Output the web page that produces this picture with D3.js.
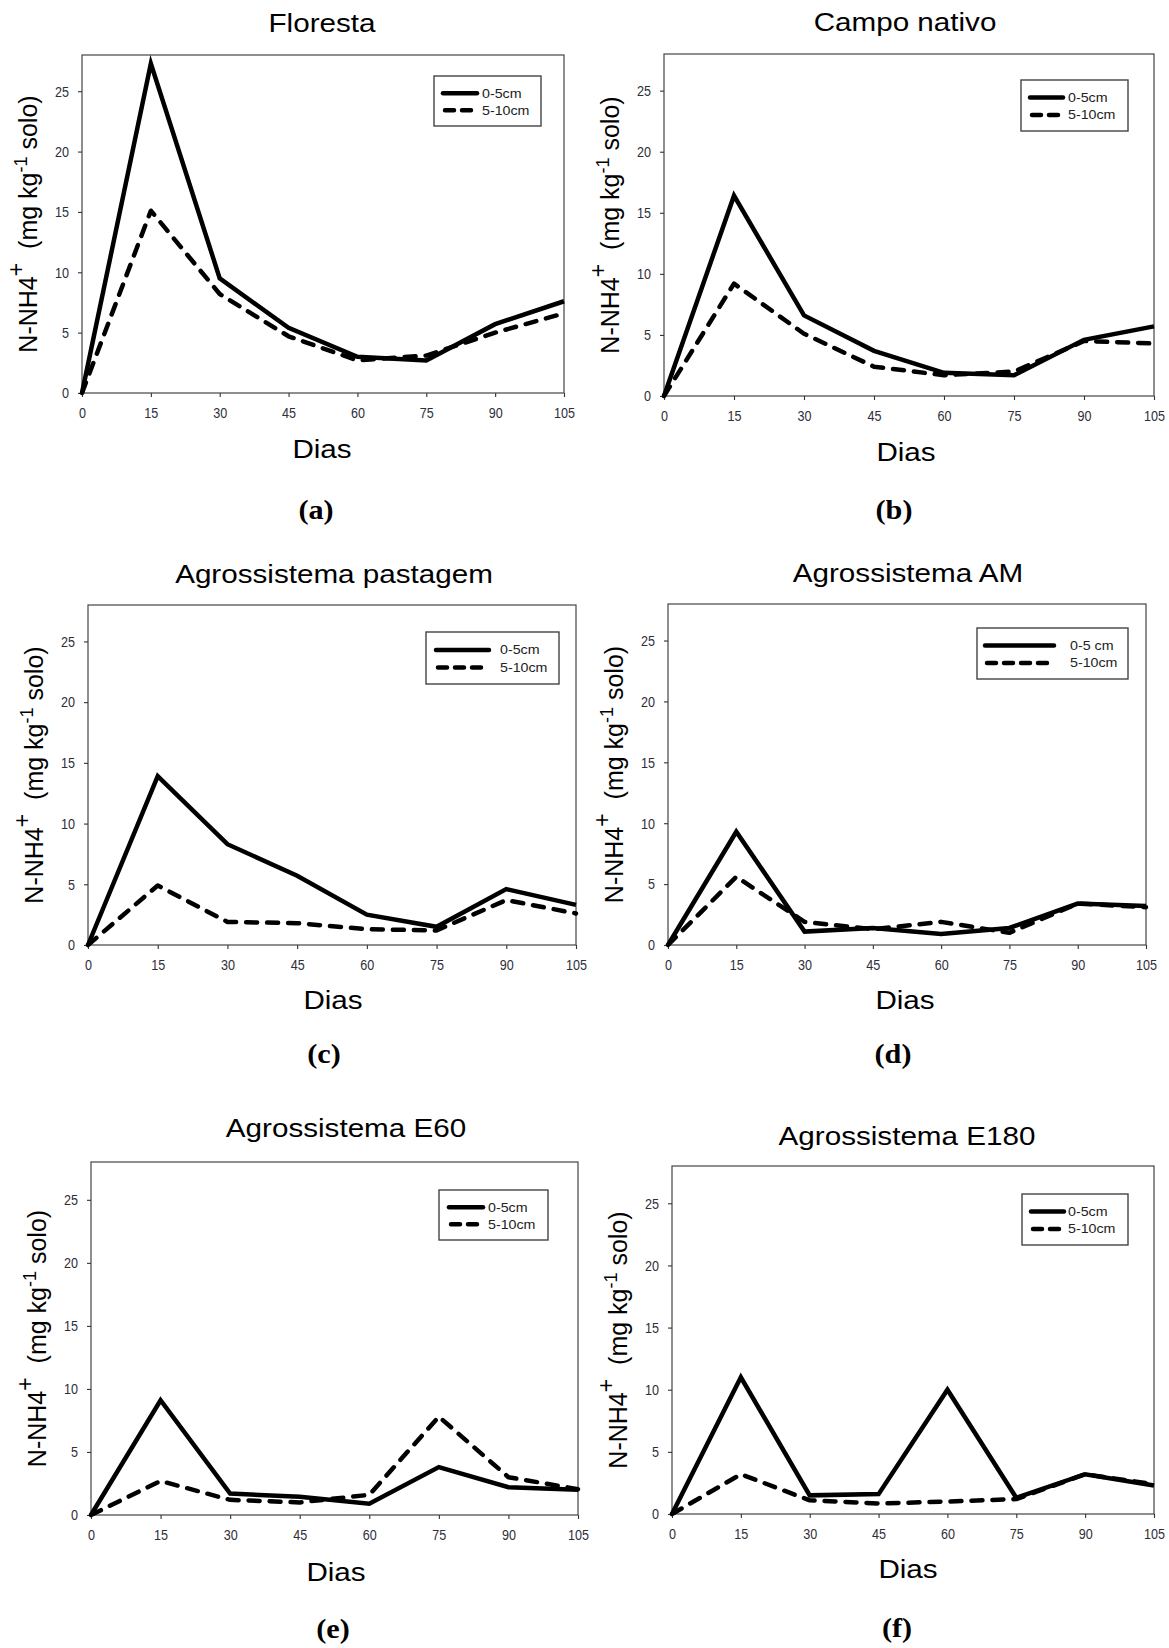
<!DOCTYPE html>
<html>
<head>
<meta charset="utf-8">
<script src="https://cdn.jsdelivr.net/npm/d3@7"></script>
<style>
  html, body { margin: 0; padding: 0; background: #fff; }
  svg { display: block; }
</style>
</head>
<body>
<script>
// ---------------- DATA ----------------
const days = [0, 15, 30, 45, 60, 75, 90, 105];
const xTicks = [0, 15, 30, 45, 60, 75, 90, 105];
const yTicks = [0, 5, 10, 15, 20, 25];

const titles = ["Floresta", "Campo nativo", "Agrossistema pastagem", "Agrossistema AM", "Agrossistema E60", "Agrossistema E180"];
const panelLetters = ["(a)", "(b)", "(c)", "(d)", "(e)", "(f)"];
const legend05 = ["0-5cm", "0-5cm", "0-5cm", "0-5 cm", "0-5cm", "0-5cm"];
const legend510 = ["5-10cm", "5-10cm", "5-10cm", "5-10cm", "5-10cm", "5-10cm"];
const xAxisLabel = "Dias";

const floresta05   = [0, 27.3, 9.5, 5.4, 3.0, 2.7, 5.7, 7.6];
const floresta510  = [0, 15.1, 8.2, 4.7, 2.7, 3.1, 5.0, 6.6];
const campo05      = [0, 16.4, 6.6, 3.7, 1.9, 1.7, 4.6, 5.7];
const campo510     = [0, 9.2, 5.1, 2.4, 1.7, 2.0, 4.5, 4.3];
const pastagem05   = [0, 13.9, 8.3, 5.7, 2.5, 1.5, 4.6, 3.3];
const pastagem510  = [0, 4.9, 1.9, 1.8, 1.3, 1.2, 3.7, 2.6];
const am05         = [0, 9.3, 1.1, 1.4, 0.9, 1.4, 3.4, 3.2];
const am510        = [0, 5.6, 1.9, 1.3, 1.9, 1.0, 3.4, 3.1];
const e60_05       = [0, 9.1, 1.7, 1.45, 0.9, 3.8, 2.2, 2.0];
const e60_510      = [0, 2.7, 1.2, 1.0, 1.6, 7.8, 3.0, 2.05];
const e180_05      = [0, 11.0, 1.5, 1.6, 10.0, 1.3, 3.2, 2.3];
const e180_510     = [0, 3.2, 1.1, 0.85, 1.0, 1.2, 3.2, 2.4];

const series05  = [floresta05, campo05, pastagem05, am05, e60_05, e180_05];
const series510 = [floresta510, campo510, pastagem510, am510, e60_510, e180_510];

// ---------------- LAYOUT ----------------
const W = 1169, H = 1648;
const layout = [
  {L: 82,  R: 564,  T: 55,   B: 393,  tx: 322, ty: 32,   dx: 322, dy: 458,  lx: 316, ly: 519,
   lg: {x0: 434, x1: 541, y0: 76, y1: 126, a: 443, b: 477, t: 482}},
  {L: 664, R: 1154, T: 54,   B: 396,  tx: 905, ty: 31,   dx: 906, dy: 461,  lx: 894, ly: 519,
   lg: {x0: 1021, x1: 1128, y0: 80, y1: 131, a: 1030, b: 1063, t: 1068}},
  {L: 88,  R: 576,  T: 605,  B: 945,  tx: 334, ty: 583,  dx: 333, dy: 1009, lx: 324, ly: 1063,
   lg: {x0: 426, x1: 559, y0: 632, y1: 684, a: 436, b: 489, t: 500}},
  {L: 668, R: 1146, T: 604,  B: 945,  tx: 908, ty: 582,  dx: 905, dy: 1009, lx: 893, ly: 1063,
   lg: {x0: 977, x1: 1128, y0: 628, y1: 679, a: 985, b: 1054, t: 1070}},
  {L: 91,  R: 578,  T: 1162, B: 1515, tx: 346, ty: 1137, dx: 336, dy: 1581, lx: 333, ly: 1638,
   lg: {x0: 439, x1: 548, y0: 1190, y1: 1240, a: 449, b: 483, t: 488}},
  {L: 672, R: 1154, T: 1166, B: 1514, tx: 907, ty: 1145, dx: 908, dy: 1578, lx: 897, ly: 1637,
   lg: {x0: 1022, x1: 1128, y0: 1194, y1: 1245, a: 1031, b: 1064, t: 1068}}
];

const SANS = "'Liberation Sans', Arial, Helvetica, sans-serif";
const STRETCH = 1.14;
const DASH = "11,10";
const LEG_DASH = "9,8";

const svg = d3.select("body").append("svg")
  .attr("width", W).attr("height", H)
  .attr("viewBox", `0 0 ${W} ${H}`);
svg.append("rect").attr("width", W).attr("height", H).attr("fill", "#fff");

// detect a Times-like serif
function textWidth(str, family, weight) {
  const t = svg.append("text").attr("font-family", family).attr("font-size", 40)
    .attr("font-weight", weight).text(str);
  const w = t.node().getComputedTextLength();
  t.remove();
  return w;
}
const probe = "(abcdefghij)";
const hasLibSerif = textWidth(probe, "'Liberation Serif', monospace", "bold") !== textWidth(probe, "monospace", "bold");
const hasTimes = textWidth(probe, "'Times New Roman', monospace", "bold") !== textWidth(probe, "monospace", "bold");
let SERIF, letterSize, letterStretch;
if (hasLibSerif) { SERIF = "'Liberation Serif'"; letterSize = 27; letterStretch = 1.12; }
else if (hasTimes) { SERIF = "'Times New Roman'"; letterSize = 27; letterStretch = 1.12; }
else { SERIF = "'DejaVu Serif', serif"; letterSize = 25; letterStretch = 0.92; }

function stretchedText(g, x, y, str, size, opts = {}) {
  return g.append("text")
    .attr("transform", `translate(${x},${y}) scale(${opts.sx || STRETCH},1)`)
    .attr("text-anchor", opts.anchor || "middle")
    .attr("font-family", opts.family || SANS)
    .attr("font-weight", opts.weight || "normal")
    .attr("font-size", size)
    .attr("fill", opts.fill || "#000")
    .text(str);
}

layout.forEach((p, i) => {
  const g = svg.append("g");
  const x = d3.scaleLinear().domain([0, 105]).range([p.L, p.R]);
  const y = d3.scaleLinear().domain([0, 28]).range([p.B, p.T]);

  // frame
  g.append("rect")
    .attr("x", p.L).attr("y", p.T)
    .attr("width", p.R - p.L).attr("height", p.B - p.T)
    .attr("fill", "none").attr("stroke", "#444").attr("stroke-width", 1.2);

  // axes
  const TSX = 0.84;
  const xa = g.append("g").attr("transform", `translate(0,${p.B})`)
    .call(d3.axisBottom(x).tickValues(xTicks).tickSize(4).tickPadding(10).tickFormat(d3.format("d")));
  const ya = g.append("g").attr("transform", `translate(${p.L},0)`)
    .call(d3.axisLeft(y).tickValues(yTicks).tickSize(4).tickPadding(13 / TSX - 4).tickFormat(d3.format("d")));
  [xa, ya].forEach(a => {
    a.select(".domain").remove();
    a.selectAll(".tick line").attr("stroke", "#333").attr("stroke-width", 1.1);
    a.selectAll(".tick text")
      .attr("font-family", SANS).attr("font-size", 15).attr("fill", "#2e2e38")
      .attr("transform", `scale(${TSX},1)`);
  });

  // lines
  const line = d3.line().x((d, j) => x(days[j])).y(d => y(d));
  g.append("path").datum(series510[i])
    .attr("d", line).attr("fill", "none").attr("stroke", "#000")
    .attr("stroke-width", 4.5).attr("stroke-dasharray", DASH)
    .attr("stroke-linecap", "round").attr("stroke-linejoin", "round");
  g.append("path").datum(series05[i])
    .attr("d", line).attr("fill", "none").attr("stroke", "#000")
    .attr("stroke-width", 4.5).attr("stroke-linejoin", "miter");

  // legend
  const lg = p.lg;
  const lgG = g.append("g");
  lgG.append("rect").attr("x", lg.x0).attr("y", lg.y0)
    .attr("width", lg.x1 - lg.x0).attr("height", lg.y1 - lg.y0)
    .attr("fill", "#fff").attr("stroke", "#444").attr("stroke-width", 1.4);
  const r1 = lg.y0 + (lg.y1 - lg.y0) * 0.345;
  const r2 = lg.y0 + (lg.y1 - lg.y0) * 0.685;
  lgG.append("line").attr("x1", lg.a).attr("x2", lg.b).attr("y1", r1).attr("y2", r1)
    .attr("stroke", "#000").attr("stroke-width", 4.5).attr("stroke-linecap", "round");
  lgG.append("line").attr("x1", lg.a + 2).attr("x2", lg.b - 2).attr("y1", r2).attr("y2", r2)
    .attr("stroke", "#000").attr("stroke-width", 4.5).attr("stroke-dasharray", LEG_DASH)
    .attr("stroke-linecap", "round");
  stretchedText(lgG, lg.t, r1 + 4.4, legend05[i], 12.5, {anchor: "start", fill: "#222"});
  stretchedText(lgG, lg.t, r2 + 4.4, legend510[i], 12.5, {anchor: "start", fill: "#222"});

  // titles and labels
  stretchedText(g, p.tx, p.ty, titles[i], 26);
  stretchedText(g, p.dx, p.dy, xAxisLabel, 26);
  stretchedText(g, p.lx, p.ly, panelLetters[i], letterSize, {family: SERIF, weight: "bold", sx: letterStretch});

  // y-axis label
  const cy = (p.T + p.B) / 2;
  const yl = g.append("text")
    .attr("transform", `translate(${p.L - 54},${cy}) scale(1.02,1) rotate(-90)`)
    .attr("text-anchor", "middle")
    .attr("font-family", SANS).attr("font-size", 25).attr("fill", "#000")
    .attr("y", 9);
  yl.append("tspan").text("N-NH4");
  yl.append("tspan").attr("baseline-shift", "super").attr("font-size", 23).text("+");
  yl.append("tspan").text("\u00A0\u00A0(mg kg");
  yl.append("tspan").attr("baseline-shift", "super").attr("font-size", 18).text("-1");
  yl.append("tspan").text(" solo)");
});
</script>
</body>
</html>
